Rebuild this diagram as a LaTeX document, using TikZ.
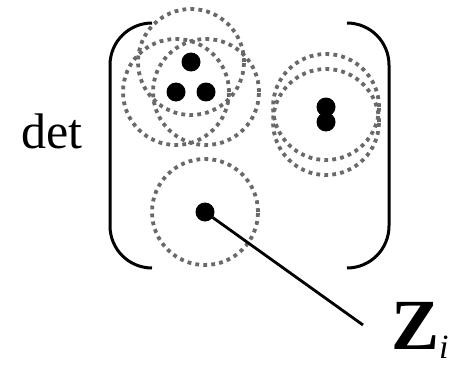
\documentclass[tikz,border=0pt]{standalone}
\usepackage{xcolor}
\usepackage{fontspec}
\setmainfont{Liberation Serif}
\usepackage{tikz}
\usetikzlibrary{positioning,calc}
\definecolor{grisZone}{RGB}{105,105,105}

\begin{document}
\begin{tikzpicture}[x=1pt,y=-1pt,
  particule/.style={circle,fill=black,inner sep=0pt,minimum size=19pt},
  zone/.style={draw=grisZone,line width=3.8pt,dash pattern=on 3.8pt off 4.2pt},
  crochet/.style={draw=black,line width=3pt,rounded corners=42pt},
  lien/.style={draw=black,line width=2.8pt}]

  \useasboundingbox (0,0) rectangle (460,369);

  \node[particule] (P1) at (191,62) {};
  \node[particule] (P2) at (176,92) {};
  \node[particule] (P3) at (206,92) {};
  \node[particule] (P4) at (326,107) {};
  \node[particule] (P5) at (326,122) {};
  \node[particule] (P6) at (205,212) {};

  \foreach \p in {P1,P2,P3,P4,P5,P6}
    \draw[zone] (\p.center) circle (53pt);

  \draw[crochet] (152,23) -- (110,23) -- (110,268) -- (152,268);
  \draw[crochet] (347,23) -- (389,23) -- (389,268) -- (347,268);

  \node[anchor=base west,inner sep=0pt,font=\fontsize{50}{54}\selectfont] (det) at (21,148) {det};

  \node[anchor=base west,inner sep=0pt,font=\fontsize{72}{74}\selectfont] (Zi) at (391,349)
    {\textbf{Z}\raisebox{-9pt}{\fontsize{34}{36}\selectfont\itshape i}};

  \coordinate (bout) at (363,325);
  \draw[lien] (P6.center) -- (bout);
\end{tikzpicture}
\end{document}
